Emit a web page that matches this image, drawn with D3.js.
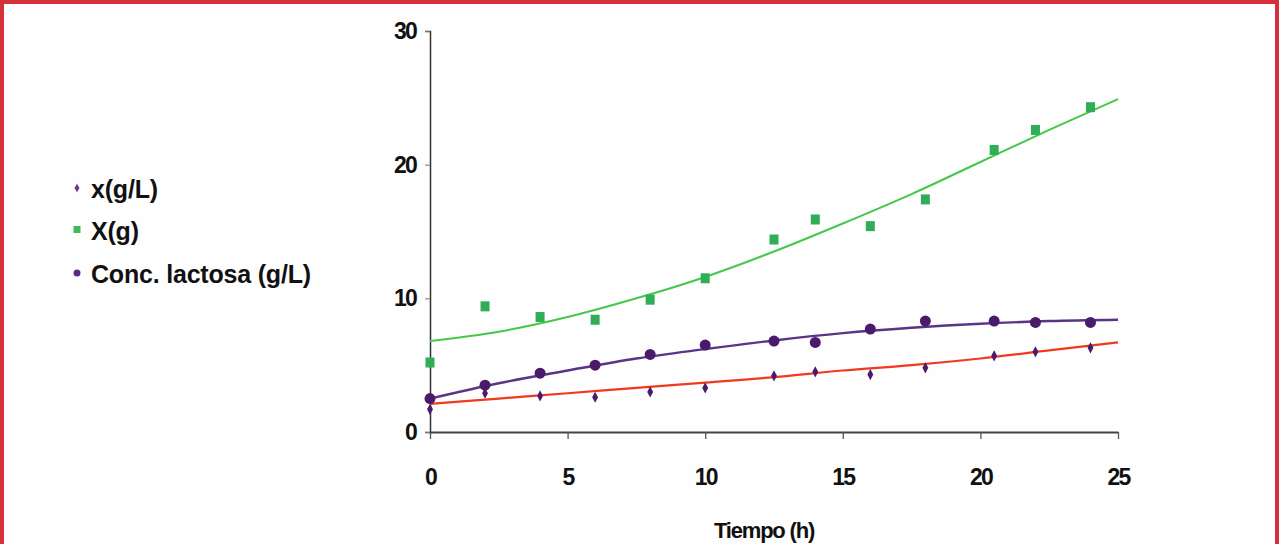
<!DOCTYPE html>
<html>
<head>
<meta charset="utf-8">
<script src="https://cdn.jsdelivr.net/npm/d3@7"></script>
<style>
  body { margin: 0; background: #fff; }
  svg { display: block; }
  text { font-family: "Liberation Sans", Arial, sans-serif; fill: #111; }
</style>
</head>
<body>
<script>

// sampling times (h)
let tiempo = [0, 2, 4, 6, 8, 10, 12.5, 14, 16, 18, 20.5, 22, 24];

// measured series
let biomasaL = [1.7, 2.9, 2.7, 2.6, 3.0, 3.3, 4.2, 4.5, 4.3, 4.8, 5.7, 6.0, 6.3];      // x(g/L)
let biomasaG = [5.2, 9.4, 8.6, 8.4, 9.9, 11.5, 14.4, 15.9, 15.4, 17.4, 21.1, 22.6, 24.3]; // X(g)
let lactosa = [2.5, 3.5, 4.4, 5.0, 5.8, 6.5, 6.8, 6.7, 7.7, 8.3, 8.3, 8.2, 8.2];     // Conc. lactosa (g/L)

// trend lines
let trendT = [0, 2.5, 5, 7.5, 10, 12.5, 15, 17.5, 20, 22.5, 25];
let trendRed = [2.1, 2.5, 2.9, 3.3, 3.7, 4.1, 4.6, 5.0, 5.5, 6.1, 6.7];
let trendGreen = [6.8, 7.5, 8.6, 10.0, 11.6, 13.5, 15.6, 17.8, 20.2, 22.6, 24.9];
let trendPurple = [2.5, 3.65, 4.6, 5.5, 6.2, 6.85, 7.4, 7.8, 8.1, 8.3, 8.4];

// axis ticks
let xTicks = [0, 5, 10, 15, 20, 25];
let yTicks = [0, 10, 20, 30];

let legendLabels = ["x(g/L)", "X(g)", "Conc. lactosa (g/L)"];

let width = 1281;
let height = 544;

let purple = "#4a1b6b";
let green = "#2fad57";

function init() {

  let svg = d3.select("body")
    .append("svg")
    .attr("width", width)
    .attr("height", height);

  // page background + red frame
  svg.append("rect")
    .attr("width", width)
    .attr("height", height)
    .attr("fill", "#fefefe");

  svg.append("rect")
    .attr("x", 2)
    .attr("y", 2)
    .attr("width", 1275)
    .attr("height", 600)
    .attr("fill", "none")
    .attr("stroke", "#d4313c")
    .attr("stroke-width", 4);

  // scales
  let x = d3.scaleLinear()
    .domain([0, 25])
    .range([430, 1118]);

  let y = d3.scaleLinear()
    .domain([0, 30])
    .range([432, 31]);

  // y axis
  let yAxis = g => g
    .attr("transform", "translate(430,0)")
    .call(d3.axisLeft(y).tickValues(yTicks).tickSize(5).tickPadding(9))
    .call(g => g.select(".domain").attr("stroke", "#333").attr("stroke-width", 1.5))
    .call(g => g.selectAll(".tick line").attr("stroke", "#777"))
    .call(g => g.selectAll("text")
      .attr("font-size", 23)
      .attr("font-weight", "bold")
      .attr("letter-spacing", -1.8)
      .attr("fill", "#111"));

  // x axis
  let xAxis = g => g
    .attr("transform", "translate(0,432)")
    .call(d3.axisBottom(x).tickValues(xTicks).tickSize(7).tickSizeOuter(0).tickPadding(30))
    .call(g => g.select(".domain").attr("stroke", "#444").attr("stroke-width", 2.2))
    .call(g => g.selectAll(".tick line").attr("stroke", "#555").attr("stroke-width", 1.3))
    .call(g => g.selectAll("text")
      .attr("font-size", 23)
      .attr("font-weight", "bold")
      .attr("letter-spacing", -1.8)
      .attr("fill", "#111"));

  svg.append("g").call(xAxis);
  svg.append("g").call(yAxis);

  svg.append("text")
    .attr("x", 764)
    .attr("y", 538)
    .attr("text-anchor", "middle")
    .attr("font-size", 22)
    .attr("font-weight", "bold")
    .attr("letter-spacing", -1.2)
    .text("Tiempo (h)");

  // trend lines
  let line = d3.line()
    .x(d => x(d[0]))
    .y(d => y(d[1]))
    .curve(d3.curveMonotoneX);

  let trends = [
    { vals: trendRed, color: "#f0391e", w: 2.2 },
    { vals: trendGreen, color: "#45c84a", w: 2 },
    { vals: trendPurple, color: "#5a3585", w: 2.4 }
  ];

  svg.append("g")
    .selectAll("path")
    .data(trends)
    .join("path")
      .attr("d", d => line(trendT.map((t, i) => [t, d.vals[i]])))
      .attr("fill", "none")
      .attr("stroke", d => d.color)
      .attr("stroke-width", d => d.w);

  // x(g/L) - small diamonds
  svg.append("g")
    .selectAll("path")
    .data(tiempo.map((t, i) => [t, biomasaL[i]]))
    .join("path")
      .attr("d", d3.symbol(d3.symbolDiamond, 30))
      .attr("transform", d => `translate(${x(d[0])},${y(d[1])}) scale(1,1.1)`)
      .attr("fill", purple);

  // X(g) - green squares
  svg.append("g")
    .selectAll("rect")
    .data(tiempo.map((t, i) => [t, biomasaG[i]]))
    .join("rect")
      .attr("x", d => x(d[0]) - 4.5)
      .attr("y", d => y(d[1]) - 5)
      .attr("width", 9)
      .attr("height", 10)
      .attr("fill", green);

  // Conc. lactosa - circles
  svg.append("g")
    .selectAll("circle")
    .data(tiempo.map((t, i) => [t, lactosa[i]]))
    .join("circle")
      .attr("cx", d => x(d[0]))
      .attr("cy", d => y(d[1]))
      .attr("r", 5.5)
      .attr("fill", purple);

  // legend
  let legend = svg.append("g")
    .attr("transform", "translate(77,0)");

  let legendY = [190, 232, 275];

  legend.append("path")
    .attr("d", d3.symbol(d3.symbolDiamond, 22))
    .attr("transform", `translate(0,${legendY[0] - 2})`)
    .attr("fill", "#6a3a90");

  legend.append("rect")
    .attr("x", -3.5)
    .attr("y", legendY[1] - 6)
    .attr("width", 7)
    .attr("height", 7)
    .attr("fill", "#3cba5c");

  legend.append("circle")
    .attr("cx", 0)
    .attr("cy", legendY[2] - 2)
    .attr("r", 3.5)
    .attr("fill", "#5a2a88");

  legend.selectAll("text")
    .data(legendLabels)
    .join("text")
      .attr("x", 14)
      .attr("y", (d, i) => legendY[i] + 8)
      .attr("font-size", 25)
      .attr("letter-spacing", -0.2)
      .attr("font-weight", "bold")
      .text(d => d);

  return svg.node();
}

init();

</script>
</body>
</html>
